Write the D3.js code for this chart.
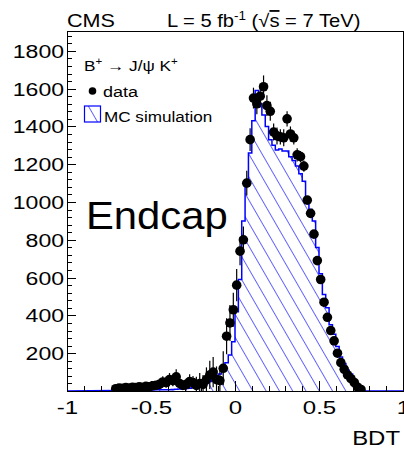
<!DOCTYPE html>
<html>
<head>
<meta charset="utf-8">
<script src="https://cdn.jsdelivr.net/npm/d3@7"></script>
<style>
  body { margin: 0; background: #fff; }
  svg { display: block; }
</style>
</head>
<body>
<div id="chart"></div>
<script>
// Bin centres of the filled BDT bins (bin width 0.02, range -1..1)
const binCenters = [
  -0.71, -0.69, -0.67, -0.65, -0.63, -0.61, -0.59, -0.57, -0.55, -0.53,
  -0.51, -0.49, -0.47, -0.45, -0.43, -0.41, -0.39, -0.37, -0.35, -0.33,
  -0.31, -0.29, -0.27, -0.25, -0.23, -0.21, -0.19, -0.17, -0.15, -0.13,
  -0.11, -0.09, -0.07, -0.05, -0.03, -0.01, 0.01, 0.03, 0.05, 0.07,
  0.09, 0.11, 0.13, 0.15, 0.17, 0.19, 0.21, 0.23, 0.25, 0.27,
  0.29, 0.31, 0.33, 0.35, 0.37, 0.39, 0.41, 0.43, 0.45, 0.47,
  0.49, 0.51, 0.53, 0.55, 0.57, 0.59, 0.61, 0.63, 0.65, 0.67,
  0.69, 0.71, 0.73, 0.75
];
const binWidth = 0.02;

// MC simulation (hatched histogram)
const mcCounts = [
  3, 3, 3, 4, 4, 4, 4, 5, 5, 5,
  5, 5, 6, 6, 6, 7, 7, 8, 9, 10,
  11, 13, 15, 18, 22, 27, 33, 42, 50, 60,
  75, 90, 110, 150, 190, 260, 420, 590, 900, 1100,
  1260, 1430, 1590, 1520, 1460, 1400, 1330, 1300, 1275, 1280,
  1270, 1270, 1240, 1220, 1190, 1150, 1110, 1010, 960, 900,
  760, 620, 510, 440, 350, 300, 235, 180, 145, 110,
  90, 55, 22, 5
];

// data points and their errors
const dataCounts = [
  12, 15, 14, 18, 16, 20, 18, 22, 20, 25,
  22, 28, 30, 35, 48, 45, 60, 55, 75, 40,
  30, 35, 50, 45, 30, 40, 35, 60, 85, 100,
  60, 55, 120, 290, 360, 430, 560, 740, 800, 1100,
  1330, 1550, 1520, 1560, 1610, 1510, 1480, 1370, 1350, 1345,
  1340, 1440, 1360, 1340, 1250, 1240, 1190, 1010, 940, 830,
  690, 590, 470, 390, 320, 265, 200, 150, 115, 85,
  65, 45, 20, 8
];
const dataErrors = [
  10, 10, 10, 12, 10, 12, 12, 12, 12, 14,
  14, 15, 16, 18, 30, 28, 35, 30, 40, 28,
  25, 28, 38, 35, 45, 55, 50, 65, 75, 80,
  70, 65, 90, 95, 95, 90, 85, 75, 70, 65,
  60, 55, 55, 60, 60, 55, 50, 45, 45, 40,
  45, 40, 40, 35, 35, 30, 30, 20, 20, 18,
  18, 15, 15, 14, 12, 12, 10, 10, 8, 8,
  6, 6, 5, 4
];

const xTickValues = [-1, -0.5, 0, 0.5, 1];
const xTickLabels = ["-1", "-0.5", "0", "0.5", "1"];
const yTickValues = [200, 400, 600, 800, 1000, 1200, 1400, 1600, 1800];

const W = 404, H = 451;
const frame = { left: 67, right: 403, top: 31, bottom: 391 };
const font = "'Liberation Sans', Arial, Helvetica, sans-serif";
const blue = "#0000ff";

const svg = d3.select("#chart").append("svg")
    .attr("width", W)
    .attr("height", H);

const xScale = d3.scaleLinear().domain([-1, 1]).range([frame.left, frame.right]);
const yScale = d3.scaleLinear().domain([0, 1905]).range([frame.bottom, frame.top]);

// hatch pattern for the MC histogram
const defs = svg.append("defs");
defs.append("pattern")
    .attr("id", "hatch")
    .attr("patternUnits", "userSpaceOnUse")
    .attr("width", 11.5)
    .attr("height", 11.5)
    .attr("patternTransform", "rotate(-30)")
    .append("line")
    .attr("x1", 0).attr("y1", 0)
    .attr("x2", 0).attr("y2", 11.5)
    .attr("stroke", blue)
    .attr("stroke-width", 1.2);

defs.append("clipPath")
    .attr("id", "plot-clip")
    .append("rect")
    .attr("x", frame.left)
    .attr("y", frame.top)
    .attr("width", frame.right - frame.left)
    .attr("height", frame.bottom - frame.top);

// helper: text with horizontal stretch (the original fonts are wide)
function addText(parent, x, y, size, sx, anchor) {
    return parent.append("text")
        .attr("transform", `translate(${x},${y}) scale(${sx},1)`)
        .attr("font-family", font)
        .attr("font-size", size)
        .attr("text-anchor", anchor || "start")
        .attr("fill", "#000");
}

const plot = svg.append("g").attr("clip-path", "url(#plot-clip)");

// MC histogram outline points (step shape, zero outside filled bins)
const mcPoints = [[-1, 0]];
binCenters.forEach((c, i) => {
    mcPoints.push([c - binWidth / 2, mcCounts[i]]);
    mcPoints.push([c + binWidth / 2, mcCounts[i]]);
});
mcPoints.push([binCenters[binCenters.length - 1] + binWidth / 2, 0]);
mcPoints.push([1, 0]);

const area = d3.area()
    .x(d => xScale(d[0]))
    .y0(yScale(0))
    .y1(d => yScale(d[1]));

const line = d3.line()
    .x(d => xScale(d[0]))
    .y(d => yScale(d[1]));

plot.append("path")
    .datum(mcPoints)
    .attr("d", area)
    .attr("fill", "url(#hatch)");

plot.append("path")
    .datum(mcPoints)
    .attr("d", line)
    .attr("fill", "none")
    .attr("stroke", blue)
    .attr("stroke-width", 1.5);

// data error bars
const points = binCenters.map((c, i) => ({ x: c, y: dataCounts[i], e: dataErrors[i] }));

plot.selectAll(".err")
    .data(points)
    .enter()
    .append("line")
    .attr("class", "err")
    .attr("x1", d => xScale(d.x))
    .attr("x2", d => xScale(d.x))
    .attr("y1", d => yScale(Math.max(0, d.y - d.e)))
    .attr("y2", d => yScale(d.y + d.e))
    .attr("stroke", "#000")
    .attr("stroke-width", 1.2);

plot.selectAll(".dot")
    .data(points)
    .enter()
    .append("circle")
    .attr("class", "dot")
    .attr("cx", d => xScale(d.x))
    .attr("cy", d => yScale(d.y))
    .attr("r", 4.8)
    .attr("fill", "#000");

// ticks (drawn inside the frame, ROOT style)
const xMinor = d3.range(-1, 1.0001, 0.1);
const yMinor = d3.range(0, 1905, 40);

svg.append("g")
    .attr("transform", `translate(0,${frame.bottom})`)
    .call(d3.axisBottom(xScale).tickValues(xMinor).tickSize(-5).tickFormat(""))
    .call(g => g.select(".domain").remove());

svg.append("g")
    .attr("transform", `translate(${frame.left},0)`)
    .call(d3.axisLeft(yScale).tickValues(yMinor).tickSize(-4.5).tickFormat(""))
    .call(g => g.select(".domain").remove());

const xAxis = svg.append("g")
    .attr("transform", `translate(0,${frame.bottom})`)
    .call(d3.axisBottom(xScale)
        .tickValues(xTickValues)
        .tickSize(-10)
        .tickFormat((d, i) => xTickLabels[i]))
    .call(g => g.select(".domain").remove());

xAxis.selectAll("text")
    .attr("y", null)
    .attr("dy", null)
    .attr("transform", "translate(0,23) scale(1.3,1)")
    .attr("font-family", font)
    .attr("font-size", 18.5)
    .attr("fill", "#000");

const yAxis = svg.append("g")
    .attr("transform", `translate(${frame.left},0)`)
    .call(d3.axisLeft(yScale)
        .tickValues(yTickValues)
        .tickSize(-9)
        .tickFormat(d3.format("d")))
    .call(g => g.select(".domain").remove());

yAxis.selectAll("text")
    .attr("x", null)
    .attr("dy", null)
    .attr("transform", "translate(-3,6.5) scale(1.28,1)")
    .attr("font-family", font)
    .attr("font-size", 18)
    .attr("fill", "#000");

svg.selectAll(".tick line").attr("stroke", "#000").attr("shape-rendering", "crispEdges");

// frame
svg.append("rect")
    .attr("x", frame.left + 0.5)
    .attr("y", frame.top + 0.5)
    .attr("width", frame.right - frame.left)
    .attr("height", frame.bottom - frame.top)
    .attr("fill", "none")
    .attr("stroke", "#000")
    .attr("stroke-width", 1);

// header
addText(svg, 67, 27, 18, 1.2).text("CMS");

const lumi = addText(svg, 167, 27, 18, 1.12);
lumi.append("tspan").text("L = 5 fb");
lumi.append("tspan").attr("dy", -7).attr("font-size", 12).text("-1");
lumi.append("tspan").attr("dy", 7).text(" (\u221A");
lumi.append("tspan").style("text-decoration", "overline").text("s");
lumi.append("tspan").text(" = 7 TeV)");

// legend
const decay = addText(svg, 84, 71, 15, 1.15);
decay.append("tspan").text("B");
decay.append("tspan").attr("dy", -6).attr("font-size", 10).text("+");
decay.append("tspan").attr("dy", 6).text(" \u2192 J/\u03C8 K");
decay.append("tspan").attr("dy", -6).attr("font-size", 10).text("+");

svg.append("circle")
    .attr("cx", 92.5)
    .attr("cy", 91)
    .attr("r", 3.8)
    .attr("fill", "#000");
addText(svg, 103, 97, 15, 1.2).text("data");

svg.append("rect")
    .attr("x", 84.5)
    .attr("y", 106)
    .attr("width", 16)
    .attr("height", 16)
    .attr("fill", "url(#hatch)")
    .attr("stroke", blue)
    .attr("stroke-width", 1.2);
addText(svg, 104, 122, 15, 1.14).text("MC simulation");

// region label
addText(svg, 86, 229, 38, 1.1).text("Endcap");

// x axis title
addText(svg, 400, 445, 21, 1.14, "end").text("BDT");
</script>
</body>
</html>
